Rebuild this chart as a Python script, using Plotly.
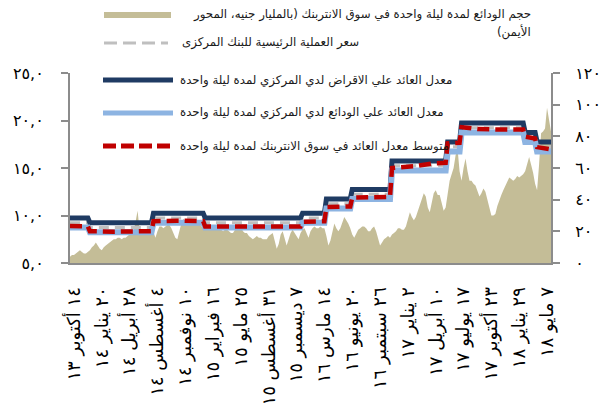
import pandas as pd
import plotly.graph_objects as go

# Weekly overnight interbank deposit volume (EGP bn, right axis), first week 30 Sep 2013
WEEK_START = "2013-09-30"
VOLUME = [
    4, 5, 5, 6, 7, 8, 7, 6, 6, 7,
    8, 10, 11, 13, 11, 9, 8, 10, 11, 12,
    13, 14, 15, 15, 16, 16, 15, 16, 16, 17,
    18, 18, 20, 26, 33, 21, 20, 19, 19, 20,
    21, 23, 20, 16, 20, 23, 23, 22, 23, 24,
    24, 22, 19, 16, 15, 20, 25, 28, 26, 25,
    25, 24, 26, 27, 27, 25, 23, 23, 22, 23,
    23, 22, 22, 21, 21, 22, 21, 20, 21, 21,
    20, 19, 19, 21, 23, 25, 23, 20, 19, 19,
    17, 16, 15, 16, 17, 16, 16, 15, 15, 15,
    17, 18, 19, 14, 9, 12, 18, 20, 16, 11,
    15, 19, 21, 19, 17, 15, 19, 21, 22, 19,
    16, 20, 22, 23, 22, 22, 23, 22, 22, 17,
    11, 14, 20, 25, 22, 20, 22, 26, 29, 27,
    25, 22, 18, 16, 19, 21, 22, 23, 23, 22,
    20, 20, 22, 23, 20, 15, 11, 13, 15, 16,
    17, 16, 18, 19, 20, 22, 22, 21, 21, 23,
    28, 32, 29, 27, 29, 33, 37, 40, 44, 42,
    35, 32, 38, 44, 46, 43, 43, 38, 33, 35,
    45, 52, 56, 60, 68, 72, 58, 52, 60, 66,
    58, 52, 52, 50, 49, 46, 42, 44, 47, 45,
    40, 35, 30, 30, 31, 36, 40, 43, 46, 49,
    52, 54, 53, 52, 53, 55, 54, 55, 56, 58,
    62, 67, 62, 57, 50, 46, 62, 82, 83, 85,
    98, 90, 83,
]

# Corridor rates (%), given at the corners of each plateau
RATE_DATES = [
    "2013-09-30", "2013-12-02", "2013-12-09", "2014-07-14", "2014-07-21",
    "2015-01-12", "2015-01-19", "2015-12-21", "2015-12-28", "2016-03-14",
    "2016-03-21", "2016-06-13", "2016-06-20", "2016-10-31", "2016-11-07",
    "2017-05-15", "2017-05-22", "2017-07-03", "2017-07-10", "2018-02-12",
    "2018-02-19", "2018-03-26", "2018-04-02", "2018-05-21",
]
LENDING = [
    9.75, 9.75, 9.25, 9.25, 10.25,
    10.25, 9.75, 9.75, 10.25, 10.25,
    11.75, 11.75, 12.75, 12.75, 15.75,
    15.75, 17.75, 17.75, 19.75, 19.75,
    18.75, 18.75, 17.75, 17.75,
]
MAIN_OPERATION = [
    9.25, 9.25, 8.75, 8.75, 9.75,
    9.75, 9.25, 9.25, 9.75, 9.75,
    11.25, 11.25, 12.25, 12.25, 15.25,
    15.25, 17.25, 17.25, 19.25, 19.25,
    18.25, 18.25, 17.25, 17.25,
]
DEPOSIT = [
    8.75, 8.75, 8.25, 8.25, 9.25,
    9.25, 8.75, 8.75, 9.25, 9.25,
    10.75, 10.75, 11.75, 11.75, 14.75,
    14.75, 16.75, 16.75, 18.75, 18.75,
    17.75, 17.75, 16.75, 16.75,
]

# Average overnight interbank rate (%)
INTERBANK_DATES = [
    "2013-09-30", "2013-11-04", "2013-12-02", "2013-12-09", "2014-03-03",
    "2014-07-14", "2014-07-21", "2014-10-13", "2015-01-12", "2015-01-19",
    "2015-07-06", "2015-12-21", "2015-12-28", "2016-03-14", "2016-03-21",
    "2016-06-13", "2016-06-20", "2016-08-29", "2016-10-31", "2016-11-07",
    "2017-01-30", "2017-04-03", "2017-05-15", "2017-05-22", "2017-07-03",
    "2017-07-10", "2017-09-04", "2017-12-04", "2018-02-12", "2018-02-19",
    "2018-03-26", "2018-04-02", "2018-05-21",
]
INTERBANK = [
    8.90, 8.85, 8.85, 8.35, 8.30,
    8.35, 9.40, 9.45, 9.40, 8.85,
    8.85, 8.85, 9.35, 9.40, 10.90,
    10.95, 11.90, 11.95, 11.95, 15.00,
    15.20, 15.50, 15.55, 17.60, 17.65,
    19.30, 19.10, 19.05, 19.05, 18.30,
    18.10, 17.20, 16.95,
]

TICK_DATES = [
    "2013-10-14", "2014-01-20", "2014-04-28", "2014-08-04", "2014-11-10",
    "2015-02-16", "2015-05-25", "2015-08-31", "2015-12-07", "2016-03-14",
    "2016-06-20", "2016-09-26", "2017-01-02", "2017-04-10", "2017-07-17",
    "2017-10-23", "2018-01-29", "2018-05-07",
]
TICK_LABELS = [
    "١٤ أكتوبر ١٣", "٢٠ يناير ١٤", "٢٨ أبريل ١٤", "٤ أغسطس ١٤", "١٠ نوفمبر ١٤",
    "١٦ فبراير ١٥", "٢٥ مايو ١٥", "٣١ أغسطس ١٥", "٧ ديسمبر ١٥", "١٤ مارس ١٦",
    "٢٠ يونيو ١٦", "٢٦ سبتمبر ١٦", "٢ يناير ١٧", "١٠ أبريل ١٧", "١٧ يوليو ١٧",
    "٢٣ أكتوبر ١٧", "٢٩ يناير ١٨", "٧ مايو ١٨",
]
RATE_TICKS = [5, 10, 15, 20, 25]
RATE_LABELS = ["٥,٠", "١٠,٠", "١٥,٠", "٢٠,٠", "٢٥,٠"]
VOLUME_TICKS = [0, 20, 40, 60, 80, 100, 120]
VOLUME_LABELS = ["٠", "٢٠", "٤٠", "٦٠", "٨٠", "١٠٠", "١٢٠"]

NAMES = [
    "حجم الودائع لمدة ليلة واحدة في سوق الانتربنك (بالمليار جنيه، المحور الأيمن)",
    "سعر العملية الرئيسية للبنك المركزى",
    "معدل العائد علي الاقراض لدي المركزي لمدة ليلة واحدة",
    "معدل العائد علي الودائع لدي المركزي لمدة ليلة واحدة",
    "متوسط معدل العائد في سوق الانتربنك لمدة ليلة واحدة",
]

TAN = "#C4BD97"
GRAY = "#BFBFBF"
NAVY = "#1F3B63"
LIGHT_BLUE = "#8DB4E2"
RED = "#C00000"
AXIS = "#8C8C8C"
FONT = "DejaVu Sans"
RLM = "\u200f"

W, H = 610, 405
ML, MR, MT, MB = 70, 59, 73, 142
PW, PH = W - ML - MR, H - MT - MB


def px(x):
    return (x - ML) / PW


def py(y):
    return (H - MB - y) / PH


weeks = pd.date_range(WEEK_START, periods=len(VOLUME), freq="7D")

fig = go.Figure()

# Volume area on the base axis (right side) so the rate lines draw over it
fig.add_trace(go.Scatter(
    x=weeks, y=VOLUME, mode="lines", fill="tozeroy",
    fillcolor=TAN, line=dict(width=0, color=TAN),
    yaxis="y", showlegend=False, hoverinfo="skip",
))
fig.add_trace(go.Scatter(
    x=RATE_DATES, y=MAIN_OPERATION, mode="lines", yaxis="y2",
    line=dict(color=GRAY, width=3, dash="10px,6px"), showlegend=False,
))
fig.add_trace(go.Scatter(
    x=RATE_DATES, y=LENDING, mode="lines", yaxis="y2",
    line=dict(color=NAVY, width=5), showlegend=False,
))
fig.add_trace(go.Scatter(
    x=RATE_DATES, y=DEPOSIT, mode="lines", yaxis="y2",
    line=dict(color=LIGHT_BLUE, width=6), showlegend=False,
))
fig.add_trace(go.Scatter(
    x=INTERBANK_DATES, y=INTERBANK, mode="lines", yaxis="y2",
    line=dict(color=RED, width=4.5, dash="12px,6px"), showlegend=False,
))

# Hand-built legend: symbols as shapes, labels as annotations
shapes = [
    dict(type="rect", xref="paper", yref="paper",
         x0=px(104), x1=px(171), y0=py(18), y1=py(12),
         fillcolor=TAN, line=dict(width=0)),
    dict(type="line", xref="paper", yref="paper",
         x0=px(104), x1=px(168), y0=py(43), y1=py(43),
         line=dict(color=GRAY, width=3, dash="13px,6px")),
    dict(type="line", xref="paper", yref="paper",
         x0=px(103), x1=px(173), y0=py(80), y1=py(80),
         line=dict(color=NAVY, width=5)),
    dict(type="line", xref="paper", yref="paper",
         x0=px(103), x1=px(173), y0=py(113), y1=py(113),
         line=dict(color=LIGHT_BLUE, width=5)),
    dict(type="line", xref="paper", yref="paper",
         x0=px(103), x1=px(170), y0=py(146), y1=py(146),
         line=dict(color=RED, width=5, dash="13px,5px")),
]

first_words = NAMES[0].split(" ")
line1 = " ".join(first_words[:-1])
line2 = first_words[-1] + RLM
legend_font = dict(family=FONT, size=11.8, color="#1a1a1a")
annotations = [
    dict(xref="paper", yref="paper", x=px(533), y=py(15), xanchor="right",
         yanchor="middle", text=line1, showarrow=False, font=legend_font),
    dict(xref="paper", yref="paper", x=px(533), y=py(32), xanchor="right",
         yanchor="middle", text=line2, showarrow=False, font=legend_font),
    dict(xref="paper", yref="paper", x=px(180), y=py(43), xanchor="left",
         yanchor="middle", text=NAMES[1], showarrow=False, font=legend_font),
    dict(xref="paper", yref="paper", x=px(178), y=py(80), xanchor="left",
         yanchor="middle", text=NAMES[2], showarrow=False, font=legend_font),
    dict(xref="paper", yref="paper", x=px(178), y=py(112), xanchor="left",
         yanchor="middle", text=NAMES[3], showarrow=False, font=legend_font),
    dict(xref="paper", yref="paper", x=px(178), y=py(146), xanchor="left",
         yanchor="middle", text=NAMES[4], showarrow=False, font=legend_font),
]

tick_font = dict(family=FONT, size=16, color="#000000")

fig.update_layout(
    width=W, height=H,
    margin=dict(l=ML, r=MR, t=MT, b=MB, pad=0, autoexpand=False),
    paper_bgcolor="white", plot_bgcolor="white",
    showlegend=False,
    shapes=shapes, annotations=annotations,
    xaxis=dict(
        type="date", range=[weeks[0], weeks[-1]], automargin=False,
        tickvals=TICK_DATES, ticktext=TICK_LABELS, tickangle=-90,
        tickfont=dict(family=FONT, size=18, color="#000000"),
        showline=True, linecolor=AXIS, linewidth=2,
        showgrid=False, zeroline=False, ticks="", ticklabelstandoff=15,
    ),
    yaxis=dict(
        side="right", range=[0, 120], automargin=False,
        tickvals=VOLUME_TICKS, ticktext=VOLUME_LABELS, tickfont=tick_font,
        showline=True, linecolor=AXIS, linewidth=2,
        ticks="outside", ticklen=7, tickcolor=AXIS, tickwidth=2,
        showgrid=False, zeroline=False, ticklabelstandoff=12,
    ),
    yaxis2=dict(
        overlaying="y", side="left", range=[5, 25], automargin=False,
        tickvals=RATE_TICKS, ticktext=RATE_LABELS, tickfont=tick_font,
        showline=True, linecolor=AXIS, linewidth=2,
        ticks="outside", ticklen=7, tickcolor=AXIS, tickwidth=2,
        showgrid=False, zeroline=False, ticklabelstandoff=14,
    ),
)

fig.write_html("out.html")
